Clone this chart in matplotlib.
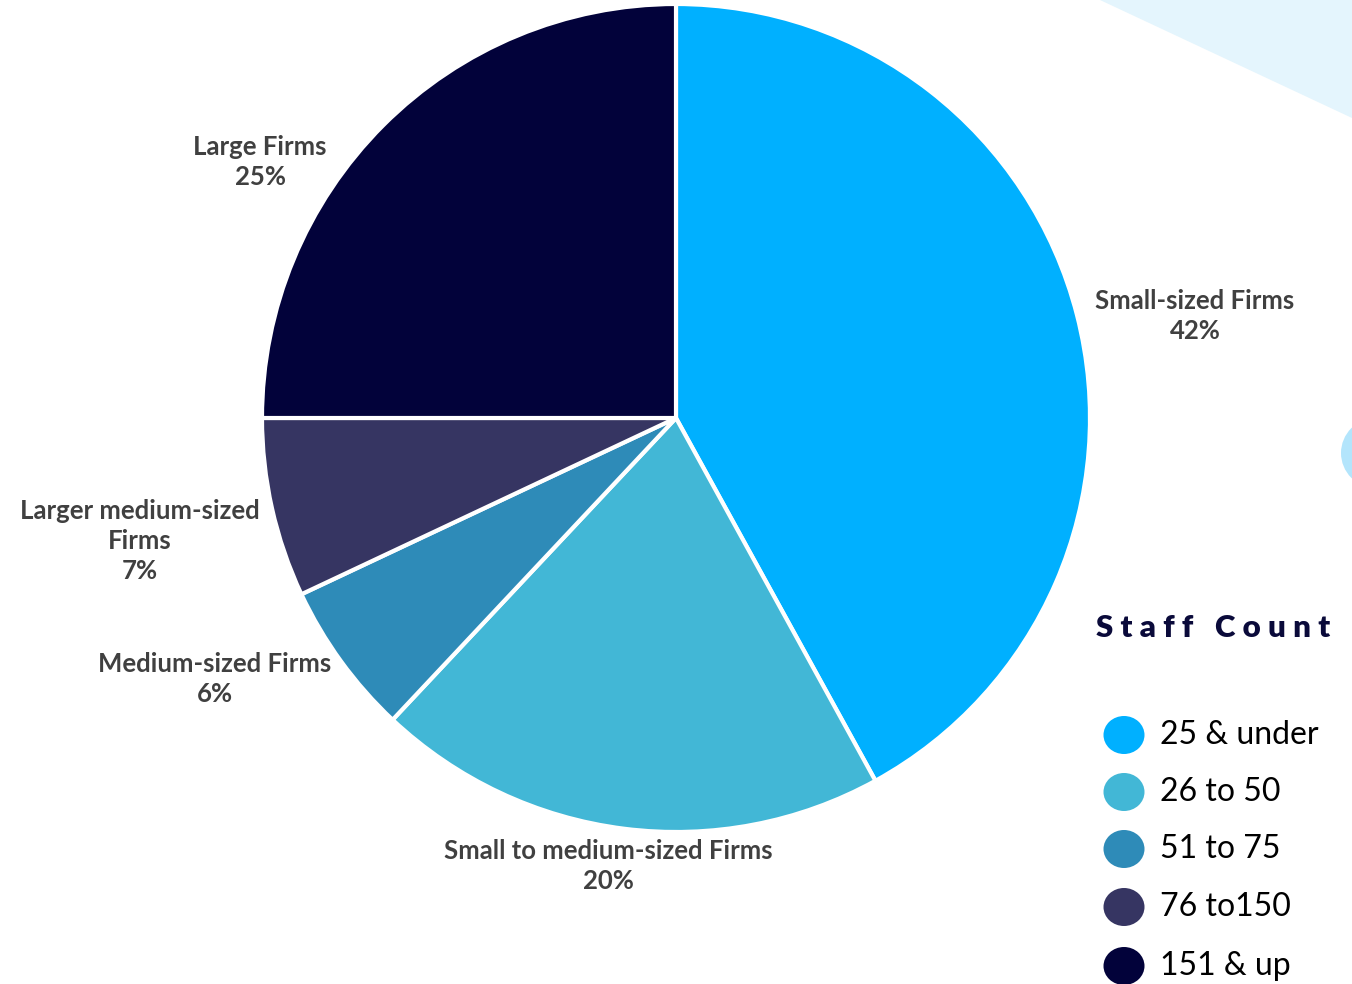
import matplotlib
matplotlib.use("Agg")
import matplotlib.pyplot as plt
from matplotlib.patches import Polygon, Circle, Ellipse

# Share of firms by staff count
categories = ["Small-sized Firms", "Small to medium-sized Firms", "Medium-sized Firms",
              "Larger medium-sized\nFirms", "Large Firms"]
shares = [42, 20, 6, 7, 25]
legend_labels = ["25 & under", "26 to 50", "51 to 75", "76 to150", "151 & up"]
colors = ["#00b0ff", "#42b7d6", "#2e8bb8", "#363562", "#02023a"]

W, H = 1352, 984
fig = plt.figure(figsize=(W / 100, H / 100), dpi=100)
ax = fig.add_axes([0, 0, 1, 1])

# decorative background shapes
ax.add_patch(Polygon([(1100, H), (W, H), (W, H - 118)], closed=True,
                     facecolor="#e4f5fd", edgecolor="none", zorder=0))
ax.add_patch(Circle((1376, H - 453), 35, facecolor="#b3e5fc", edgecolor="none", zorder=0))

cx, cy, r = 676, H - 418, 414
wedges, _ = ax.pie(shares, colors=colors, startangle=90, counterclock=False,
                   center=(cx, cy), radius=r, frame=True,
                   wedgeprops=dict(edgecolor="white", linewidth=3))
ax.set_xlim(0, W)
ax.set_ylim(0, H)
ax.set_aspect("equal")
ax.axis("off")

label_pos = [(1195, H - 316), (608, H - 866), (215, H - 679), (140, H - 541), (260, H - 162)]
for cat, val, (x, y) in zip(categories, shares, label_pos):
    ax.text(x, y, f"{cat}\n{val}%", ha="center", va="center", fontsize=18.5,
            fontweight="bold", color="#404040", family="Lato", linespacing=1.3)

# legend
ax.text(1096, H - 628, "S t a f f   C o u n t", ha="left", va="center", fontsize=22.5,
        fontweight="heavy", color="#0a0a3a", family="Lato")
leg_y = [735, 792, 849, 907, 966]
for lab, col, y in zip(legend_labels, colors, leg_y):
    ax.add_patch(Ellipse((1124, H - y), 41, 38, facecolor=col, edgecolor="none"))
    ax.text(1160, H - y, lab, ha="left", va="center", fontsize=23, color="black",
            family="Lato")

fig.savefig("out.png", dpi=100)
